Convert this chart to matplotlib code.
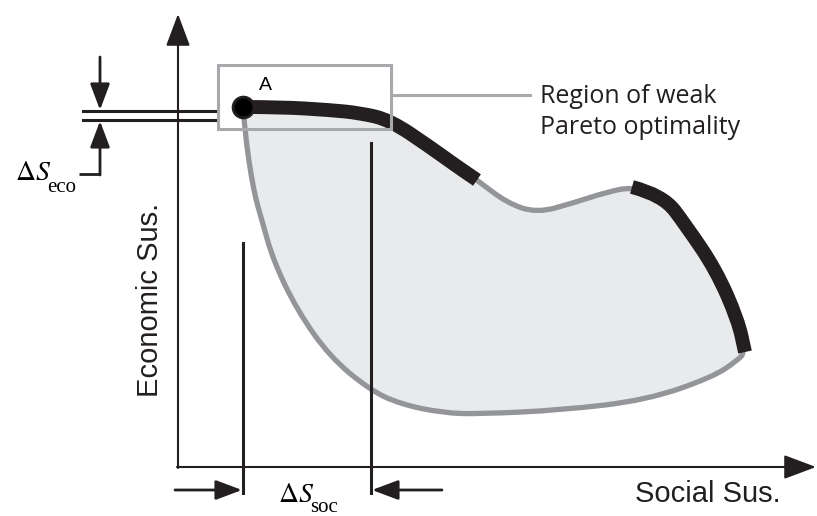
import matplotlib.pyplot as plt
from matplotlib.path import Path
from matplotlib.patches import PathPatch, Rectangle

plt.rcParams['mathtext.fontset'] = 'stix'

# outline of the feasible region, in picture pixels (y down)
# upper edge: black (weak optimal) / gray / black parts
top_black1_x = [243, 280, 330, 360, 390, 430, 455, 477]
top_black1_y = [107, 107, 110, 113, 120, 147, 165, 180]
top_gray_x = [477, 507, 537, 573, 607, 632]
top_gray_y = [180, 203, 213, 203, 192, 187]
top_black2_x = [632, 663, 687, 716, 738, 745]
top_black2_y = [187, 195, 227, 270, 320, 352]
# lower edge, from A to the right end
low_x = [243, 246, 251, 256, 261, 273, 297, 330, 370, 400, 443, 480, 563, 647, 713, 738, 745]
low_y = [107, 140, 175, 200, 217, 260, 310, 357, 390, 404, 413, 414, 410, 400, 377, 360, 352]

point_A = (243, 107)
weak_box = (218, 65, 391, 129)   # x0, y0, x1, y1
soc_lines_x = [243, 371]
soc_lines_top = [243, 143]
eco_lines_y = [111, 120]

BLACK = '#231f20'
GRAY = '#939598'
FILL = '#e9eaec'
BOXGRAY = '#a7a9ac'


def smooth(xs, ys):
    verts = [(xs[0], ys[0])]
    codes = [Path.MOVETO]
    for i in range(1, len(xs) - 1):
        verts += [(xs[i], ys[i]), ((xs[i] + xs[i + 1]) / 2, (ys[i] + ys[i + 1]) / 2)]
        codes += [Path.CURVE3, Path.CURVE3]
    verts.append((xs[-1], ys[-1]))
    codes.append(Path.LINETO)
    return Path(verts, codes)


fig = plt.figure(figsize=(8.17, 5.16), dpi=100)
ax = fig.add_axes([0, 0, 1, 1])
ax.set_xlim(0, 817)
ax.set_ylim(516, 0)
ax.axis('off')

upper_x = top_black1_x + top_gray_x[1:] + top_black2_x[1:]
upper_y = top_black1_y + top_gray_y[1:] + top_black2_y[1:]
ring_x = upper_x + low_x[::-1][1:]
ring_y = upper_y + low_y[::-1][1:]

ax.add_patch(PathPatch(smooth(ring_x, ring_y), fc=FILL, ec='none', zorder=1))
ax.add_patch(PathPatch(smooth(ring_x, ring_y), fc='none', ec=GRAY, lw=3.8,
                       capstyle='round', joinstyle='round', zorder=2))
for xs, ys in [(top_black1_x, top_black1_y), (top_black2_x, top_black2_y)]:
    ax.add_patch(PathPatch(smooth(xs, ys), fc='none', ec=BLACK, lw=10,
                           capstyle='butt', joinstyle='round', zorder=3))

# weak pareto box and its label
x0, y0, x1, y1 = weak_box
ax.add_patch(Rectangle((x0, y0), x1 - x0, y1 - y0, fill=False, ec=BOXGRAY, lw=2.2, zorder=4))
ax.plot([x1, 530], [95, 95], color=BOXGRAY, lw=2.2, zorder=4)
ax.text(540, 103, 'Region of weak', family='Open Sans', fontsize=18, color=BLACK, va='baseline')
ax.text(540, 134, 'Pareto optimality', family='Open Sans', fontsize=18, color=BLACK, va='baseline')

ax.plot(*point_A, 'o', ms=15, mfc='black', mec=BLACK, mew=2, zorder=5)
ax.text(265, 86, 'A', family='Liberation Sans', fontsize=14, ha='center', va='center')

# axes
arr = dict(arrowstyle='-|>,head_length=2.0,head_width=0.75', color=BLACK, lw=1.5,
           shrinkA=0, shrinkB=0, mutation_scale=10)
ax.annotate('', xy=(178, 14), xytext=(178, 468), arrowprops=arr, zorder=6)
ax.annotate('', xy=(816, 467), xytext=(177, 467), arrowprops=arr, zorder=6)
ax.text(150, 300, 'Economic Sus.', family='Liberation Sans', fontsize=21,
        rotation=90, ha='center', va='center', color=BLACK)
ax.text(635, 502, 'Social Sus.', family='Liberation Sans', fontsize=21,
        va='baseline', color=BLACK)

# delta S_soc
for lx, ty in zip(soc_lines_x, soc_lines_top):
    ax.plot([lx, lx], [ty, 493], color=BLACK, lw=2.2, zorder=6)
small = dict(arrowstyle='-|>,head_length=1.6,head_width=0.6', color=BLACK, lw=2,
             shrinkA=0, shrinkB=0, mutation_scale=10)
ax.annotate('', xy=(242, 490), xytext=(175, 490), arrowprops=small)
ax.annotate('', xy=(372, 490), xytext=(442, 490), arrowprops=small)
ax.text(278, 502, r'$\Delta S$', fontsize=20, va='baseline')
ax.text(310, 512, 'soc', family='Liberation Serif', fontsize=15, va='baseline')

# delta S_eco
for ly in eco_lines_y:
    ax.plot([83, 215], [ly, ly], color=BLACK, lw=2.2, zorder=6)
ax.annotate('', xy=(100, 110), xytext=(100, 57), arrowprops=small)
ax.annotate('', xy=(100, 121), xytext=(100, 175), arrowprops=small)
ax.plot([79, 100], [174, 174], color=BLACK, lw=2, solid_capstyle='butt')
ax.text(15, 180, r'$\Delta S$', fontsize=20, va='baseline')
ax.text(47, 192, 'eco', family='Liberation Serif', fontsize=15, va='baseline')

fig.savefig('out.png', dpi=100)
